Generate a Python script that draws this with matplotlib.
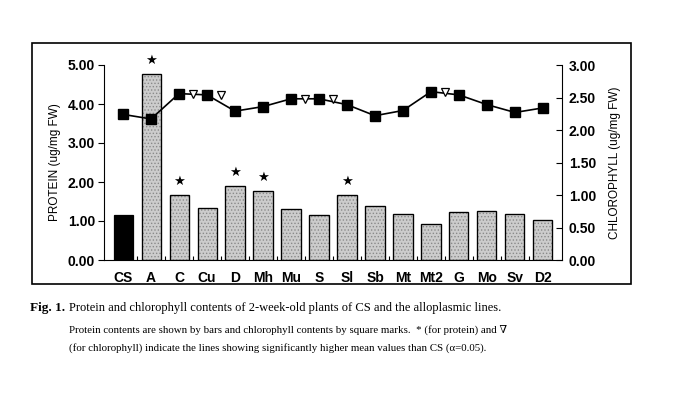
import matplotlib
matplotlib.use("Agg")
import matplotlib.pyplot as plt
from matplotlib.patches import Rectangle
import numpy as np

categories = ["CS", "A", "C", "Cu", "D", "Mh", "Mu", "S", "Sl", "Sb", "Mt", "Mt2", "G", "Mo", "Sv", "D2"]
protein = [1.16, 4.76, 1.66, 1.34, 1.89, 1.76, 1.32, 1.15, 1.66, 1.39, 1.17, 0.92, 1.22, 1.26, 1.19, 1.02]
chlorophyll = [2.24, 2.17, 2.56, 2.54, 2.29, 2.36, 2.48, 2.48, 2.39, 2.22, 2.30, 2.59, 2.54, 2.39, 2.27, 2.34]
protein_sig = ["A", "C", "D", "Mh", "Sl"]
chloro_sig = ["C", "Cu", "Mu", "S", "Mt2"]
left_ticks = [0, 1, 2, 3, 4, 5]
right_ticks = [0, 0.5, 1.0, 1.5, 2.0, 2.5, 3.0]

plt.rcParams['font.family'] = ['Liberation Sans', 'DejaVu Sans']
plt.rcParams['hatch.linewidth'] = 0.6
plt.rcParams['hatch.color'] = '#8a8a8a'

fig = plt.figure(figsize=(6.93, 3.94), dpi=100)
ax = fig.add_axes([104/693, 1-260/394, (562-104)/693, (260-65)/394])
x = np.arange(len(categories))

colors = ['black'] + ['#cccccc'] * (len(categories) - 1)
bars = ax.bar(x, protein, width=0.68, color=colors, edgecolor='black', linewidth=0.9)
for b in bars[1:]:
    b.set_hatch('.....')
    b.set_edgecolor('#8a8a8a')
    ax.add_patch(Rectangle(b.get_xy(), b.get_width(), b.get_height(), fill=False,
                           edgecolor='black', linewidth=0.9, zorder=3))

ax.set_xlim(-0.68, len(categories) - 1 + 0.68)
ax.set_ylim(0, 5)
ax.set_yticks(left_ticks)
ax.set_yticklabels([f"{v:.2f}" for v in left_ticks])
ax.set_xticks(x)
ax.set_xticklabels(categories)
ax.set_xticks(np.arange(len(categories) - 1) + 0.5, minor=True)
ax.tick_params(axis='x', which='major', length=0, pad=8, labelsize=10)
ax.tick_params(axis='x', which='minor', direction='in', length=3, width=0.8)
ax.tick_params(axis='y', direction='out', length=4, width=0.8, labelsize=10, pad=2.5)
for lab in ax.get_xticklabels() + ax.get_yticklabels():
    lab.set_fontweight('bold')
ax.spines['top'].set_visible(False)
ax.spines['right'].set_visible(False)
ax.set_ylabel("PROTEIN (ug/mg FW)", fontsize=8.5, labelpad=5)

for c in protein_sig:
    i = categories.index(c)
    ax.annotate('\u2605', (x[i], protein[i]), xytext=(0, 5), textcoords='offset points',
                ha='center', va='bottom', fontsize=9.5, family=['DejaVu Sans'])

ax2 = ax.twinx()
ax2.set_ylim(0, 3)
ax2.set_yticks(right_ticks)
ax2.set_yticklabels([f"{v:.2f}" for v in right_ticks])
ax2.tick_params(axis='y', direction='in', length=4, width=0.8, labelsize=10, pad=5)
for lab in ax2.get_yticklabels():
    lab.set_fontweight('bold')
ax2.spines['top'].set_visible(False)
ax2.spines['left'].set_visible(False)
ax2.spines['bottom'].set_visible(False)
ax2.plot(x, chlorophyll, color='black', linewidth=1.2, marker='s', markersize=6.5,
         markerfacecolor='black', markeredgecolor='black', zorder=5)
for c in chloro_sig:
    i = categories.index(c)
    ax2.plot(x[i] + 0.5, chlorophyll[i], marker='v', markersize=5.5, markerfacecolor='white',
             markeredgecolor='black', markeredgewidth=0.9, linestyle='none', zorder=6)
ax2.set_ylabel("CHLOROPHYLL (ug/mg FW)", fontsize=8.5, labelpad=9)

fig.add_artist(Rectangle((32/693, 1-284/394), (631-32)/693, (284-43)/394, fill=False,
                         edgecolor='black', linewidth=1.2, transform=fig.transFigure))

serif = ['Liberation Serif', 'DejaVu Serif']
fig.text(30/693, 1-308/394, "Fig. 1.", fontsize=9.5, fontweight='bold', family=serif, va='center')
fig.text(69/693, 1-308/394, "Protein and chlorophyll contents of 2-week-old plants of CS and the alloplasmic lines.",
         fontsize=9.0, family=serif, va='center')
fig.text(69/693, 1-330/394, "Protein contents are shown by bars and chlorophyll contents by square marks.  * (for protein) and \u2207",
         fontsize=7.85, family=serif, va='center')
fig.text(69/693, 1-348/394, "(for chlorophyll) indicate the lines showing significantly higher mean values than CS (\u03b1=0.05).",
         fontsize=7.85, family=serif, va='center')

fig.savefig("out.png", dpi=100)
